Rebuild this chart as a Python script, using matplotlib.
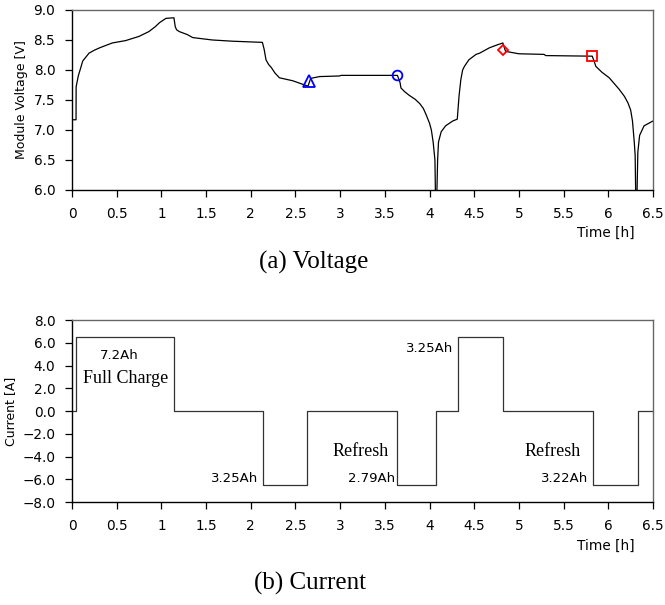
import matplotlib
matplotlib.use("Agg")
import matplotlib.pyplot as plt
import numpy as np

# module voltage trace [h], [V]
time_v = [0.0, 0.045, 0.046, 0.07, 0.12, 0.19, 0.25, 0.31, 0.45, 0.60, 0.75, 0.86, 0.93, 0.98,
          1.05, 1.14, 1.155, 1.17, 1.20, 1.29, 1.35, 1.57, 1.79, 2.13, 2.15, 2.17, 2.20,
          2.23, 2.27, 2.32, 2.47, 2.64, 2.67, 2.77, 2.99, 3.01, 3.64, 3.67, 3.68, 3.72,
          3.77, 3.84, 3.89, 3.93, 3.96, 4.00, 4.02, 4.04, 4.06, 4.07, 4.075, 4.09, 4.10,
          4.13, 4.18, 4.26, 4.31, 4.33, 4.35, 4.37, 4.39, 4.44, 4.52, 4.56, 4.67, 4.76,
          4.82, 4.85, 5.0, 5.28, 5.30, 5.82, 5.84, 5.86, 5.93, 6.01, 6.12, 6.18, 6.22,
          6.25, 6.27, 6.29, 6.30, 6.31, 6.315, 6.33, 6.35, 6.40, 6.5]
voltage = [7.17, 7.17, 7.72, 7.90, 8.15, 8.28, 8.33, 8.37, 8.45, 8.49, 8.56, 8.64, 8.72, 8.79,
           8.86, 8.87, 8.72, 8.67, 8.64, 8.59, 8.54, 8.50, 8.48, 8.46, 8.34, 8.17, 8.09,
           8.04, 7.95, 7.87, 7.82, 7.73, 7.86, 7.89, 7.90, 7.91, 7.91, 7.79, 7.70, 7.64,
           7.58, 7.51, 7.44, 7.36, 7.26, 7.11, 7.00, 6.80, 6.50, 5.5, 5.5, 6.50, 6.80,
           6.97, 7.07, 7.15, 7.18, 7.57, 7.84, 8.0, 8.06, 8.17, 8.26, 8.28, 8.37, 8.42,
           8.45, 8.31, 8.27, 8.26, 8.24, 8.23, 8.15, 8.06, 7.96, 7.87, 7.68, 7.56, 7.45,
           7.33, 7.15, 6.80, 6.58, 5.5, 5.5, 6.63, 6.91, 7.07, 7.15]

# markers on the voltage trace
tri_pt = (2.65, 7.81)
circ_pt = (3.64, 7.91)
diam_pt = (4.82, 8.34)
sq_pt = (5.82, 8.23)

# current steps [h], [A]
step_t = [0.0, 0.04, 1.14, 2.14, 2.63, 3.64, 4.07, 4.32, 4.82, 5.83, 6.33, 6.5]
step_i = [0.0, 6.5, 0.0, -6.5, 0.0, -6.5, 0.0, 6.5, 0.0, -6.5, 0.0, 0.0]

# annotations: (text, t, i, ha, serif)
notes = [("7.2Ah", 0.53, 4.9, "center", False),
         ("Full Charge", 0.60, 2.9, "center", True),
         ("3.25Ah", 2.08, -5.9, "right", False),
         ("Refresh", 3.23, -3.6, "center", True),
         ("2.79Ah", 3.62, -5.9, "right", False),
         ("3.25Ah", 4.26, 5.5, "right", False),
         ("Refresh", 5.38, -3.6, "center", True),
         ("3.22Ah", 5.77, -5.9, "right", False)]

xticks = np.arange(0, 6.51, 0.5)
xlabels = ["0", "0.5", "1", "1.5", "2", "2.5", "3", "3.5", "4", "4.5", "5", "5.5", "6", "6.5"]

plt.rcParams['font.family'] = ['DejaVu Sans']
serif = 'Liberation Serif'

fig = plt.figure(figsize=(6.65, 6.05), dpi=100)
ax1 = fig.add_axes([0.1083, 0.686, 0.8737, 0.2975])
ax2 = fig.add_axes([0.1083, 0.1702, 0.8737, 0.3008])


def style(ax):
    ax.set_xlim(0, 6.5)
    ax.set_xticks(xticks)
    ax.set_xticklabels(xlabels)
    ax.tick_params(axis='both', direction='out', length=5, width=0.9, labelsize=9.8, pad=7)
    for s in ['left', 'bottom']:
        ax.spines[s].set_color('black')
        ax.spines[s].set_linewidth(1.0)
    for s in ['top', 'right']:
        ax.spines[s].set_color('#666666')
        ax.spines[s].set_linewidth(1.0)
    ax.text(0.968, -0.2, "Time [h]", transform=ax.transAxes, ha='right', va='top', fontsize=9.8)


# (a) voltage
ax1.plot(time_v, voltage, color='black', lw=0.9)
ax1.plot(*tri_pt, marker='^', ms=8, mfc='none', mec='blue', mew=1.3)
ax1.plot(*circ_pt, marker='o', ms=7, mfc='none', mec='blue', mew=1.3)
ax1.plot(*diam_pt, marker='D', ms=5, mfc='none', mec='red', mew=1.3)
ax1.plot(*sq_pt, marker='s', ms=7, mfc='none', mec='red', mew=1.3)
ax1.set_ylim(6, 9)
ax1.set_yticks(np.arange(6, 9.01, 0.5))
ax1.set_yticklabels([f"{v:.1f}" for v in np.arange(6, 9.01, 0.5)])
ax1.set_ylabel("Module Voltage [V]", fontsize=9)
style(ax1)

# (b) current
ax2.step(step_t, step_i, where='post', color='#333333', lw=0.9)
ax2.set_ylim(-8, 8)
ax2.set_yticks(np.arange(-8, 8.01, 2))
ax2.set_yticklabels([f"{v:.1f}".replace('-', '\u2212') for v in np.arange(-8, 8.01, 2)])
ax2.set_ylabel("Current [A]", fontsize=9)
for txt, t, i, ha, is_serif in notes:
    if is_serif:
        ax2.text(t, i, txt, ha=ha, va='center', fontsize=13, family=serif)
    else:
        ax2.text(t, i, txt, ha=ha, va='center', fontsize=9.5)
style(ax2)

fig.text(0.471, 0.567, "(a) Voltage", ha='center', va='center', fontsize=18, family=serif)
fig.text(0.466, 0.036, "(b) Current", ha='center', va='center', fontsize=18, family=serif)

fig.savefig("out.png", dpi=100)
